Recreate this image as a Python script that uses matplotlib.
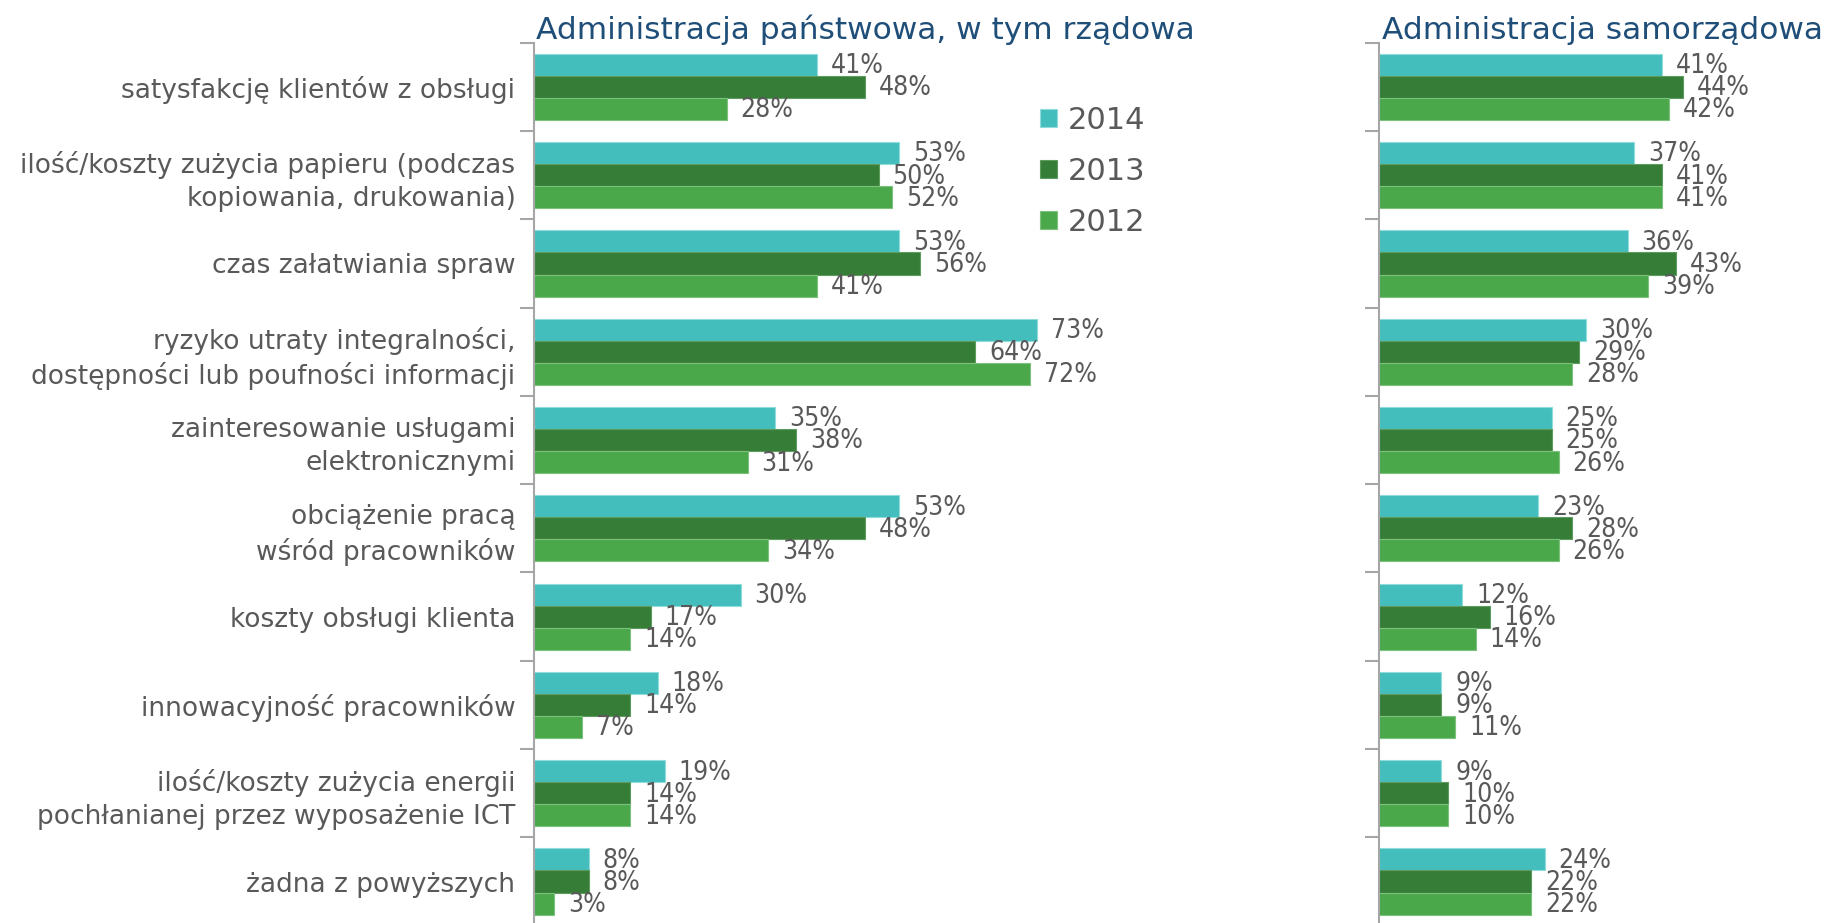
# Bar chart: skutki wdrożenia usług elektronicznych, administracja państwowa vs samorządowa
import matplotlib.pyplot as plt
import numpy as np

categories = [
    'satysfakcję klientów z obsługi',
    'ilość/koszty zużycia papieru (podczas\nkopiowania, drukowania)',
    'czas załatwiania spraw',
    'ryzyko utraty integralności,\ndostępności lub poufności informacji',
    'zainteresowanie usługami\nelektronicznymi',
    'obciążenie pracą\nwśród pracowników',
    'koszty obsługi klienta',
    'innowacyjność pracowników',
    'ilość/koszty zużycia energii\npochłanianej przez wyposażenie ICT',
    'żadna z powyższych',
]
years = ['2014', '2013', '2012']

# administracja państwowa, w tym rządowa
state_2014 = [41, 53, 53, 73, 35, 53, 30, 18, 19, 8]
state_2013 = [48, 50, 56, 64, 38, 48, 17, 14, 14, 8]
state_2012 = [28, 52, 41, 72, 31, 34, 14, 7, 14, 3]

# administracja samorządowa
local_2014 = [41, 37, 36, 30, 25, 23, 12, 9, 9, 24]
local_2013 = [44, 41, 43, 29, 25, 28, 16, 9, 10, 22]
local_2012 = [42, 41, 39, 28, 26, 26, 14, 11, 10, 22]

colors = ['#43BEBD', '#367E37', '#4AA84B']
edges = ['#8FDCDA', '#5E9B5E', '#7CC27C']
text_gray = '#595959'
axis_gray = '#A6A6A6'
title_blue = '#1F4E79'

plt.rcParams['font.family'] = ['DejaVu Sans']

fig = plt.figure(figsize=(18.31, 9.23), dpi=100)
ax_l = fig.add_axes([0.2914, -0.0029, 0.3366, 0.9566])
ax_r = fig.add_axes([0.7533, -0.0029, 0.2467, 0.9566])

y = np.arange(len(categories))
h = 0.25


def draw_panel(ax, series, xmax, title, show_labels):
    for k, vals in enumerate(series):
        pos = y + (k - 1) * h
        ax.barh(pos, vals, height=h, color=colors[k], edgecolor=edges[k],
                linewidth=0.8, label=years[k])
        for p, v in zip(pos, vals):
            ax.annotate(f'{v}%', (v, p), xytext=(10, -1), textcoords='offset points',
                        ha='left', va='center', fontsize=19, fontstretch='condensed',
                        color=text_gray)
    ax.set_xlim(0, xmax)
    ax.set_ylim(len(categories) - 0.5, -0.5)
    ax.set_yticks(np.arange(len(categories) + 1) - 0.5)
    ax.set_yticklabels([])
    ax.tick_params(axis='y', which='major', length=10, width=1.5, color=axis_gray)
    ax.set_yticks(y, minor=True)
    if show_labels:
        ax.set_yticklabels(categories, minor=True, fontsize=19, color=text_gray,
                           linespacing=1.35)
    else:
        ax.set_yticklabels([], minor=True)
    ax.tick_params(axis='y', which='minor', length=0, pad=13)
    ax.xaxis.set_visible(False)
    for s in ['top', 'right', 'bottom']:
        ax.spines[s].set_visible(False)
    ax.spines['left'].set_color(axis_gray)
    ax.spines['left'].set_linewidth(1.5)
    ax.patch.set_alpha(0)
    ax.annotate(title, (0, 1), xycoords='axes fraction', xytext=(2, 3),
                textcoords='offset points', ha='left', va='baseline',
                fontsize=22.5, color=title_blue, annotation_clip=False)


draw_panel(ax_l, [state_2014, state_2013, state_2012], 89.3,
           'Administracja państwowa, w tym rządowa', True)
draw_panel(ax_r, [local_2014, local_2013, local_2012], 65.5,
           'Administracja samorządowa', False)

ax_l.legend(loc='upper left', bbox_to_anchor=(0.777, 0.96), frameon=False,
            fontsize=22, labelcolor=text_gray, handlelength=0.55, handleheight=0.55,
            handletextpad=0.35, labelspacing=0.72)

fig.savefig('out.png', dpi=100)
